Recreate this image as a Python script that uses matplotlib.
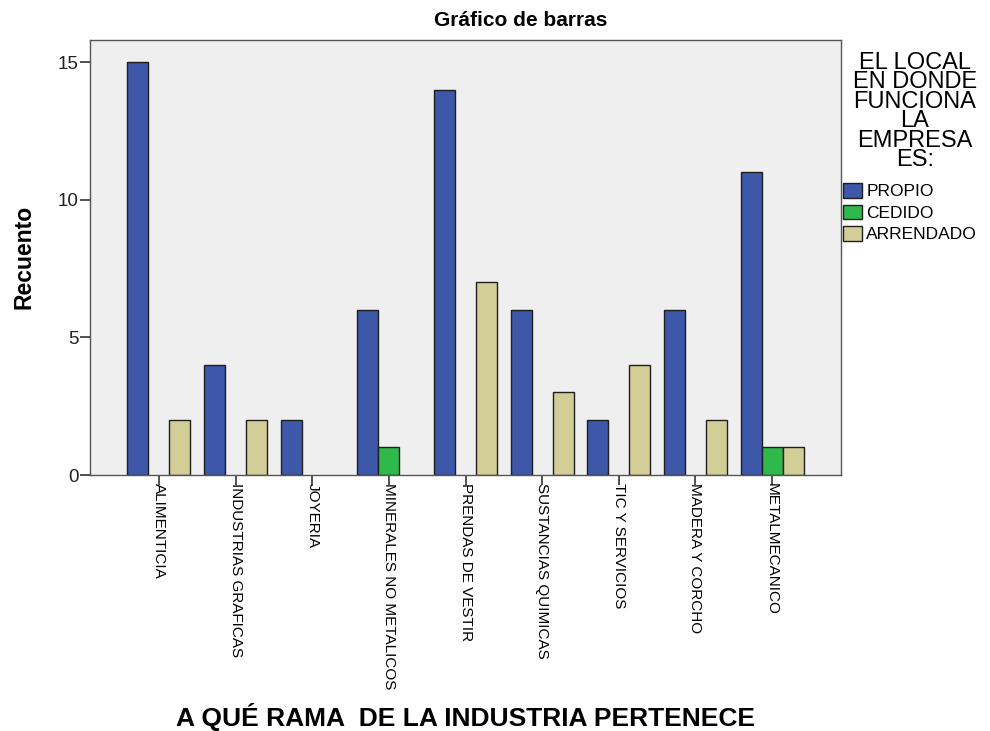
import matplotlib

matplotlib.use("Agg")
import matplotlib.pyplot as plt
import numpy as np

categories = [
    "ALIMENTICIA",
    "INDUSTRIAS GRAFICAS",
    "JOYERIA",
    "MINERALES NO METALICOS",
    "PRENDAS DE VESTIR",
    "SUSTANCIAS QUIMICAS",
    "TIC Y SERVICIOS",
    "MADERA Y CORCHO",
    "METALMECANICO",
]
propio = [15, 4, 2, 6, 14, 6, 2, 6, 11]
cedido = [0, 0, 0, 1, 0, 0, 0, 0, 1]
arrendado = [2, 2, 0, 0, 7, 3, 4, 2, 1]
series_names = ["PROPIO", "CEDIDO", "ARRENDADO"]
series_colors = ["#3d57a9", "#2fb84b", "#d3ce97"]
y_ticks = [0, 5, 10, 15]
legend_title = "EL LOCAL\nEN DONDE\nFUNCIONA\nLA\nEMPRESA\nES:"

plt.rcParams["font.family"] = ["Liberation Sans", "DejaVu Sans"]

W, H = 990, 731
fig = plt.figure(figsize=(W / 100, H / 100), dpi=100)
ax = fig.add_axes([90 / W, 1 - 475 / H, 751 / W, 435 / H])
ax.set_facecolor("#efefef")

x = np.arange(len(categories))
w = 0.274
for i, (vals, name, col) in enumerate(zip([propio, cedido, arrendado], series_names, series_colors)):
    v = np.array(vals, dtype=float)
    mask = v > 0
    ax.bar(x[mask] + (i - 1) * w, v[mask], width=w, color=col,
           edgecolor="#1e1e1e", linewidth=1.0, label=name)

ax.set_xlim(-0.9, len(categories) - 1 + 0.9)
ax.set_ylim(0, 15.8)
ax.set_yticks(y_ticks)
ax.set_yticklabels([str(t) for t in y_ticks], fontsize=13.5, color="#222222")
ax.set_xticks(x)
ax.set_xticklabels(categories, rotation=-90, ha="center", va="top", fontsize=11)
ax.tick_params(axis="both", length=7, width=1.2, color="#333333")
ax.tick_params(axis="x", pad=-1)
ax.tick_params(axis="y", pad=1)
for s in ax.spines.values():
    s.set_color("#555555")
    s.set_linewidth(1.0)

fig.text(521 / W, 1 - 20 / H, "Gráfico de barras", ha="center", va="center",
         fontsize=15, fontweight="bold")
fig.text(24 / W, 1 - 257 / H, "Recuento", rotation=90, ha="center", va="center",
         fontsize=16.5, fontweight="bold")
fig.text(465 / W, 1 - 726 / H, "A QUÉ RAMA  DE LA INDUSTRIA PERTENECE",
         ha="center", va="baseline", fontsize=19, fontweight="bold")

fig.text(915 / W, 1 - 52 / H, legend_title, ha="center", va="top",
         multialignment="center", fontsize=17, linespacing=0.85)

ax.legend(
    loc="upper left",
    bbox_to_anchor=(843 / W, 1 - 183 / H),
    bbox_transform=fig.transFigure,
    frameon=False,
    borderpad=0,
    borderaxespad=0,
    fontsize=12.5,
    handlelength=1.1,
    handleheight=0.92,
    handletextpad=0.25,
    labelspacing=0.3,
)

fig.savefig("out.png", dpi=100)
